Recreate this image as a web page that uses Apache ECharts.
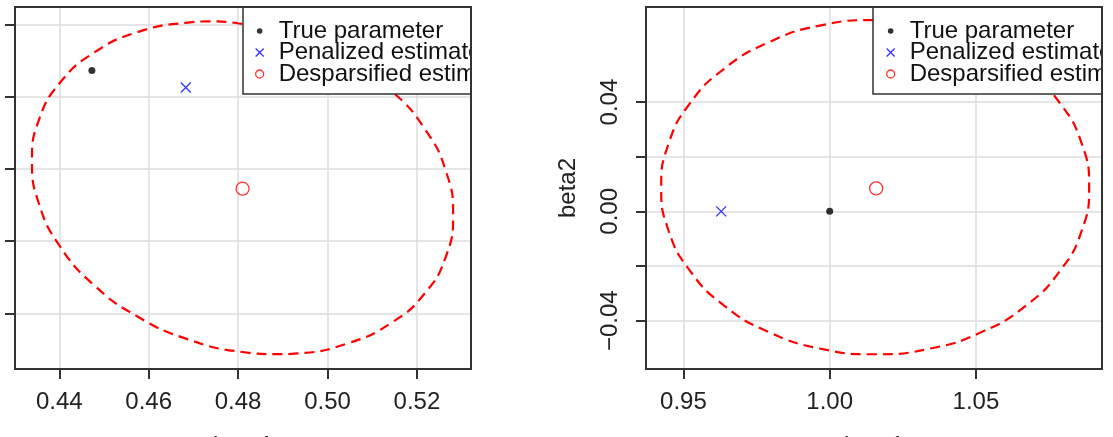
<!DOCTYPE html>
<html lang="en">
<head>
    <meta http-equiv="Content-Type" content="text/html; charset=utf-8"/>
    <title>Confidence regions</title>
    <script type="text/javascript" src="https://cdn.jsdelivr.net/npm/echarts@6.0.0/dist/echarts.min.js"></script>
</head>
<style>
    * {
        margin: 0;
        padding: 0;
    }
    html, body {
        width: 100%;
        height: 100%;
        background: #fff;
    }
    .main {
        width: 1113px;
        height: 437px;
    }
</style>
<body style="overflow:hidden">
<div id="main" class="main"></div>
</body>
<script type="text/javascript">

    var names = ['True parameter', 'Penalized estimator', 'Desparsified estimator'];

    // left panel
    var leftXTicks = [0.44, 0.46, 0.48, 0.50, 0.52];
    var leftYTicks = [-0.04, -0.02, 0.00, 0.02, 0.04];
    var leftTrue = [[0.4473, 0.0272]];
    var leftPenalized = [[0.4683, 0.0225]];
    var leftDesparsified = [[0.4810, -0.0055]];
    // confidence region (starts under the legend)
    var leftRegion = [
        [0.5045, 0.0303], [0.4932, 0.0367], [0.4810, 0.0401], [0.4734, 0.0408], [0.4688, 0.0405],
        [0.4574, 0.0378], [0.4477, 0.0321], [0.4402, 0.0239], [0.4355, 0.0137], [0.4339, 0.0022],
        [0.4355, -0.0098], [0.4402, -0.0215], [0.4477, -0.0321], [0.4574, -0.0408], [0.4688, -0.0472],
        [0.4810, -0.0507], [0.4886, -0.0513], [0.4932, -0.0511], [0.5045, -0.0483], [0.5143, -0.0426],
        [0.5218, -0.0344], [0.5265, -0.0242], [0.5281, -0.0127], [0.5265, -0.0007], [0.5218, 0.0110],
        [0.5143, 0.0216], [0.5045, 0.0303]
    ];

    // right panel
    var rightXTicks = [0.95, 1.00, 1.05];
    var rightYTicks = [-0.04, -0.02, 0.00, 0.02, 0.04];
    var rightYLabels = [-0.04, 0.00, 0.04];
    var rightTrue = [[1.0000, 0.0000]];
    var rightPenalized = [[0.9629, 0.0000]];
    var rightDesparsified = [[1.0159, 0.0084]];
    var rightRegion = [
        [1.0521, 0.0618], [1.0345, 0.0680], [1.0155, 0.0700], [0.9966, 0.0680], [0.9790, 0.0618],
        [0.9638, 0.0521], [0.9522, 0.0395], [0.9449, 0.0247], [0.9424, 0.0089], [0.9449, -0.0070],
        [0.9522, -0.0217], [0.9638, -0.0344], [0.9790, -0.0441], [0.9966, -0.0502], [1.0155, -0.0523],
        [1.0345, -0.0502], [1.0521, -0.0441], [1.0672, -0.0344], [1.0788, -0.0217], [1.0862, -0.0070],
        [1.0887, 0.0089], [1.0862, 0.0247], [1.0788, 0.0395], [1.0672, 0.0521], [1.0521, 0.0618]
    ];

    var FONT = '"Liberation Sans", Arial, sans-serif';
    var TXT = '#222';

    // legend icons: the mark sits at the left of a 19x10 box
    var dotIcon = 'path://M0,0M19,10M2.2,5a2.8,2.8 0 1,0 5.6,0a2.8,2.8 0 1,0 -5.6,0';
    var crossIcon = 'path://M0,0M19,10M1,1L9,9M9,1L1,9';
    var ringIcon = 'path://M0,0M19,10M1,5a4,4 0 1,0 8,0a4,4 0 1,0 -8,0';

    function fmt(v) {
        return v.toFixed(2).replace('-', '\u2212');
    }

    function xAxis(idx, min, max, ticks, name) {
        return {
            type: 'value', gridIndex: idx, min: min, max: max,
            name: name, nameLocation: 'middle', nameGap: 65,
            nameTextStyle: {fontFamily: FONT, fontSize: 24, color: TXT},
            axisLine: {show: false, onZero: false},
            axisTick: {show: true, length: 10, customValues: ticks, lineStyle: {color: '#333', width: 2}},
            axisLabel: {customValues: ticks, margin: 21, fontFamily: FONT, fontSize: 24, color: TXT, formatter: fmt},
            splitLine: {show: true, lineStyle: {color: '#dcdcdc', width: 1.5}}
        };
    }

    function yAxis(idx, min, max, ticks, labels, name) {
        return {
            type: 'value', gridIndex: idx, min: min, max: max,
            name: name, nameLocation: 'middle', nameGap: 66,
            nameTextStyle: {fontFamily: FONT, fontSize: 24, color: TXT},
            axisLine: {show: false, onZero: false},
            axisTick: {show: true, length: 10, customValues: ticks, lineStyle: {color: '#333', width: 2}},
            axisLabel: {show: labels.length > 0, customValues: labels, rotate: 90, margin: 24,
                fontFamily: FONT, fontSize: 24, color: TXT, formatter: fmt},
            splitLine: {show: true, lineStyle: {color: '#dcdcdc', width: 1.5}}
        };
    }

    // the legend runs past the plot edge; the part outside is covered below
    function legend(left, padLeft) {
        return {
            orient: 'vertical', left: left, top: 7,
            padding: [12, 0, 8, padLeft], itemGap: -2.5, itemWidth: 19, itemHeight: 10,
            backgroundColor: '#fff', borderColor: '#333', borderWidth: 1.5,
            selectedMode: false,
            textStyle: {fontFamily: FONT, fontSize: 24, color: '#111', lineHeight: 21},
            data: [
                {name: names[0], icon: dotIcon, itemStyle: {color: '#000', borderWidth: 0}},
                {name: names[1], icon: crossIcon, itemStyle: {color: 'transparent', borderColor: '#0000ff', borderWidth: 1.3}},
                {name: names[2], icon: ringIcon, itemStyle: {color: 'transparent', borderColor: '#ff0000', borderWidth: 1.3}}
            ]
        };
    }

    function panel(idx, region, truth, pen, desp) {
        return [
            {
                name: 'Confidence region', type: 'line', xAxisIndex: idx, yAxisIndex: idx,
                data: region, smooth: true, symbol: 'none', silent: true,
                lineStyle: {color: '#ff0000', width: 2.2, type: [10, 6]}
            },
            {
                name: names[0], type: 'scatter', xAxisIndex: idx, yAxisIndex: idx,
                data: truth, symbol: 'circle', symbolSize: 7, itemStyle: {color: '#000'}
            },
            {
                name: names[1], type: 'scatter', xAxisIndex: idx, yAxisIndex: idx,
                data: pen, symbol: 'path://M0,0L10,10M10,0L0,10', symbolSize: 10,
                itemStyle: {color: 'transparent', borderColor: '#0000ff', borderWidth: 1.3}
            },
            {
                name: names[2], type: 'scatter', xAxisIndex: idx, yAxisIndex: idx,
                data: desp, symbol: 'circle', symbolSize: 13,
                itemStyle: {color: 'transparent', borderColor: '#ff0000', borderWidth: 1.3}
            }
        ];
    }

    var chart = echarts.init(document.getElementById('main'), null, {renderer: 'canvas'});

    var option = {
        animation: false,
        backgroundColor: '#fff',
        // z above the legend so the plot box frames it, like R clipping
        grid: [
            {left: 15, top: 7, width: 456, height: 362, show: true, z: 5,
                borderColor: '#333', borderWidth: 2, backgroundColor: 'transparent', outerBoundsMode: 'none'},
            {left: 646, top: 7, width: 456, height: 362, show: true, z: 5,
                borderColor: '#333', borderWidth: 2, backgroundColor: 'transparent', outerBoundsMode: 'none'}
        ],
        xAxis: [
            xAxis(0, 0.4301, 0.5321, leftXTicks, 'beta1'),
            xAxis(1, 0.9372, 1.0931, rightXTicks, 'beta1')
        ],
        yAxis: [
            yAxis(0, -0.0554, 0.0448, leftYTicks, [], ''),
            yAxis(1, -0.0577, 0.0748, rightYTicks, rightYLabels, 'beta2')
        ],
        legend: [legend(243, 11), legend(873, 12)],
        graphic: [
            {type: 'rect', left: 472, top: 0, z: 10, shape: {width: 88, height: 96}, style: {fill: '#fff'}},
            {type: 'rect', left: 1103, top: 0, z: 10, shape: {width: 10, height: 96}, style: {fill: '#fff'}}
        ],
        series: panel(0, leftRegion, leftTrue, leftPenalized, leftDesparsified)
            .concat(panel(1, rightRegion, rightTrue, rightPenalized, rightDesparsified))
    };

    chart.setOption(option);
</script>
</html>
